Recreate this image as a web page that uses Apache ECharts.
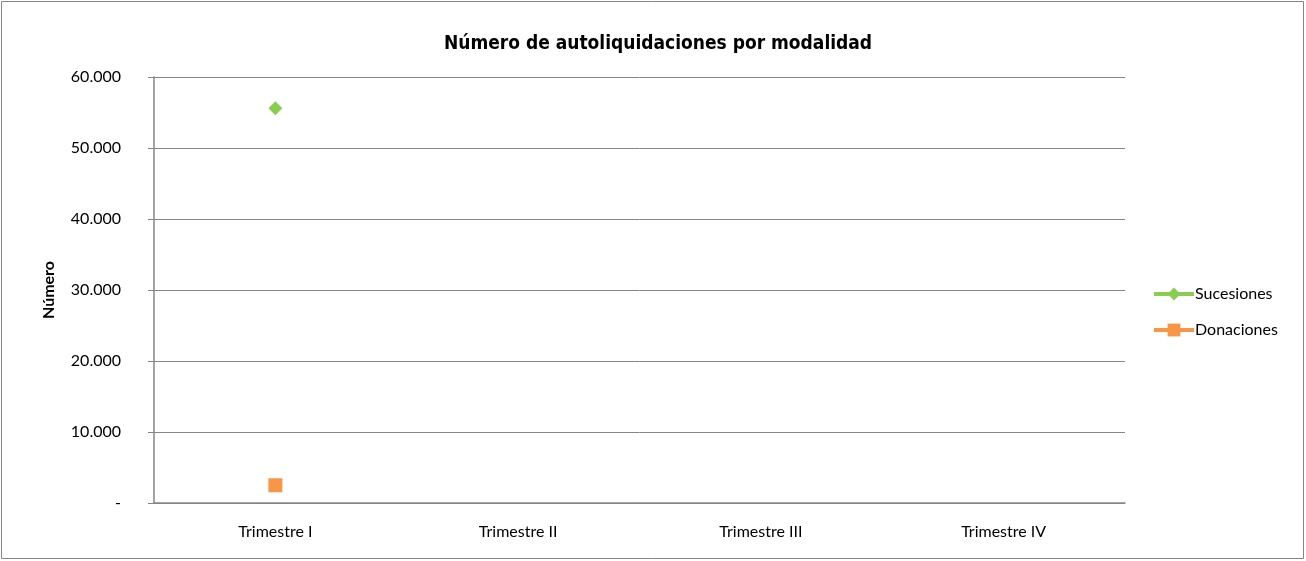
<!DOCTYPE html>
<html>
<head>
<meta charset="utf-8">
<script src="https://cdn.jsdelivr.net/npm/echarts@6/dist/echarts.min.js"></script>
<style>
  html, body { margin: 0; padding: 0; background: #fff; }
  #chart { width: 1306px; height: 561px; }
</style>
</head>
<body>
<div id="chart"></div>
<script>
const categories = ['Trimestre I', 'Trimestre II', 'Trimestre III', 'Trimestre IV'];
const sucesiones = [55600, null, null, null];
const donaciones = [2500, null, null, null];
const yTicks = { min: 0, max: 60000, interval: 10000 };

const chart = echarts.init(document.getElementById('chart'));

// miles con punto, el cero como guion
const fmt = (v) => v === 0 ? '-' : String(v).replace(/\B(?=(\d{3})+(?!\d))/g, '.');

const option = {
  animation: false,
  backgroundColor: '#fff',
  textStyle: { fontFamily: 'Lato' },
  graphic: [{
    type: 'rect',
    shape: { x: 1.5, y: 1.5, width: 1302, height: 557 },
    style: { fill: 'none', stroke: '#868686', lineWidth: 1 }
  }],
  title: {
    text: 'Número de autoliquidaciones por modalidad',
    left: 653,
    textAlign: 'center',
    top: 30,
    textStyle: { fontFamily: "'DejaVu Sans Condensed', 'DejaVu Sans', sans-serif", fontWeight: 'bold', fontSize: 19, color: '#000' }
  },
  legend: {
    orient: 'vertical',
    left: 1147,
    top: 281,
    itemGap: 20,
    itemWidth: 40,
    itemHeight: 16,
    lineStyle: { width: 4 },
    textStyle: { fontFamily: 'Lato', fontSize: 16, color: '#000', padding: [0, 0, 0, -4] },
    data: ['Sucesiones', 'Donaciones']
  },
  grid: { left: 154, right: 181, top: 77, bottom: 58 },
  xAxis: {
    type: 'category',
    data: categories,
    boundaryGap: true,
    axisLine: { lineStyle: { color: '#868686', width: 1.5 } },
    axisTick: { length: 6, lineStyle: { color: '#868686' } },
    axisLabel: { color: '#000', fontSize: 16, margin: 21 }
  },
  yAxis: {
    type: 'value',
    min: yTicks.min,
    max: yTicks.max,
    interval: yTicks.interval,
    name: 'Número',
    nameLocation: 'middle',
    nameGap: 97,
    nameTextStyle: { fontWeight: 'bold', fontSize: 16, color: '#000' },
    axisLine: { show: true, lineStyle: { color: '#868686', width: 1.5 } },
    axisTick: { show: true, length: 6, lineStyle: { color: '#868686' } },
    axisLabel: { color: '#000', fontSize: 16, margin: 33, formatter: fmt },
    splitLine: { lineStyle: { color: '#868686', width: 1 } }
  },
  series: [
    {
      name: 'Sucesiones',
      type: 'line',
      data: sucesiones,
      symbol: 'diamond',
      symbolSize: 14,
      showSymbol: true,
      itemStyle: { color: '#8ACE4F' },
      lineStyle: { color: '#8ACE4F', width: 3 }
    },
    {
      name: 'Donaciones',
      type: 'line',
      data: donaciones,
      symbol: 'rect',
      symbolSize: 14,
      showSymbol: true,
      itemStyle: { color: '#F79646' },
      lineStyle: { color: '#F79646', width: 3 }
    }
  ]
};

chart.setOption(option);
</script>
</body>
</html>
